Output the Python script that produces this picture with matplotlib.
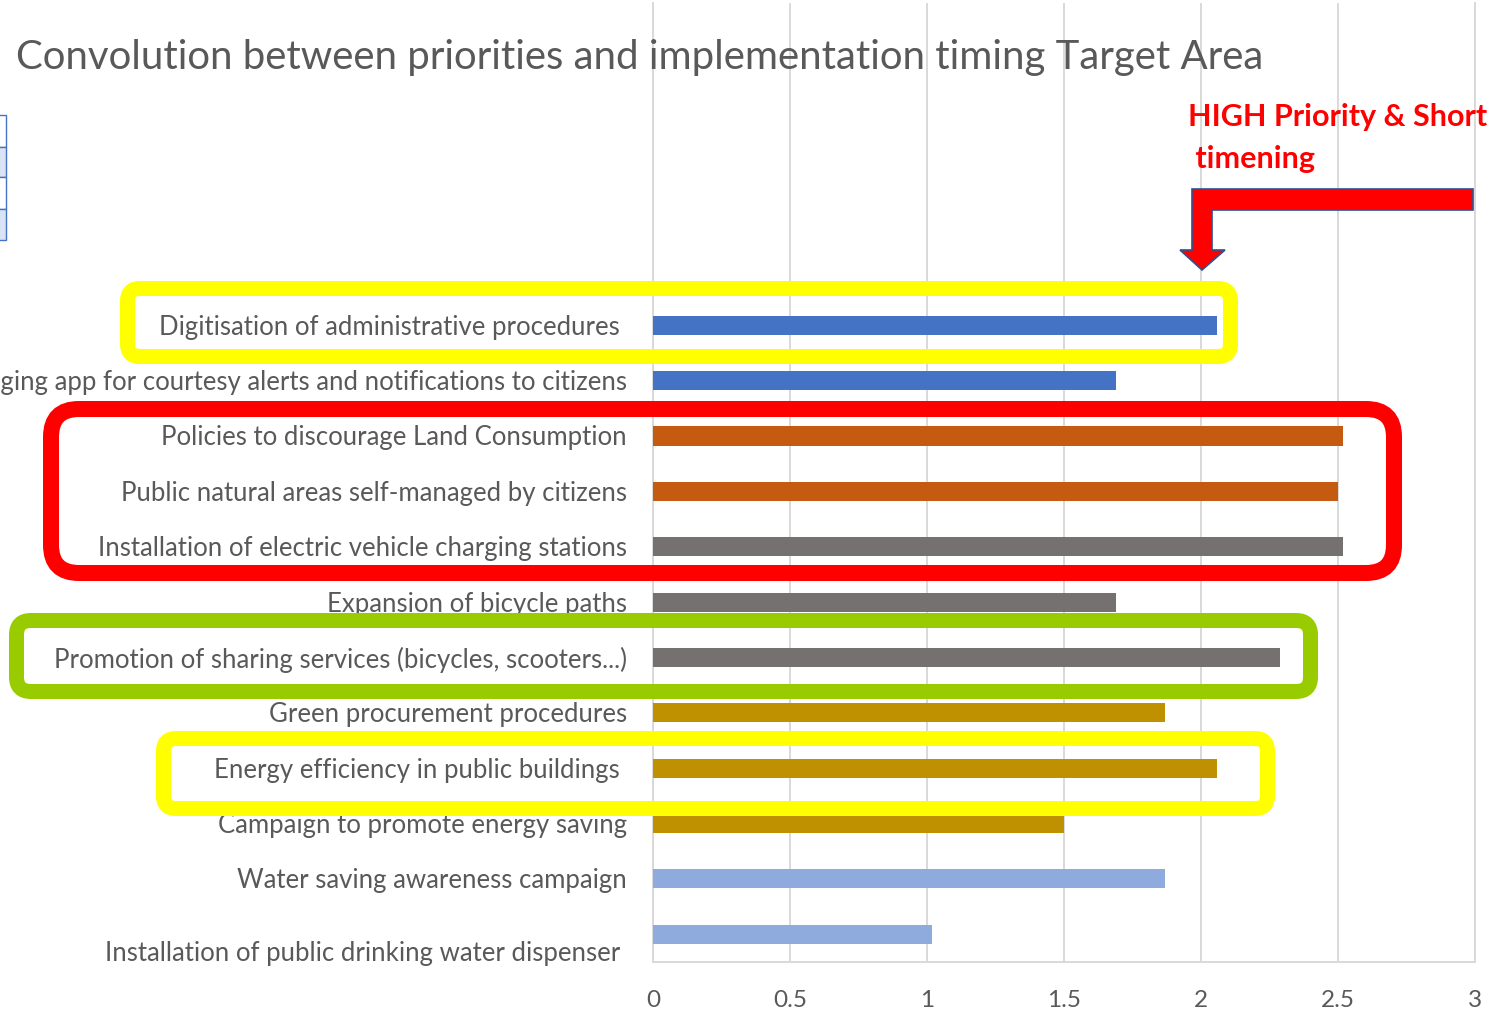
import matplotlib
matplotlib.use("Agg")
import matplotlib.pyplot as plt
import matplotlib.transforms as mtransforms
from matplotlib.patches import FancyBboxPatch, Polygon, Rectangle
import numpy as np

plt.rcParams['font.family'] = ['Lato', 'DejaVu Sans']

# Actions, top to bottom, with their combined priority/timing score
actions = [
    "Digitisation of administrative procedures",
    "Messaging app for courtesy alerts and notifications to citizens",
    "Policies to discourage Land Consumption",
    "Public natural areas self-managed by citizens",
    "Installation of electric vehicle charging stations",
    "Expansion of bicycle paths",
    "Promotion of sharing services (bicycles, scooters...)",
    "Green procurement procedures",
    "Energy efficiency in public buildings",
    "Campaign to promote energy saving",
    "Water saving awareness campaign",
    "Installation of public drinking water dispenser",
]
scores = [2.06, 1.69, 2.52, 2.50, 2.52, 1.69, 2.29, 1.87, 2.06, 1.50, 1.87, 1.02]

x_ticks = [0, 0.5, 1, 1.5, 2, 2.5, 3]
x_tick_labels = ["0", "0.5", "1", "1.5", "2", "2.5", "3"]

title = "Convolution between priorities and implementation timing Target Area"
callout = ["HIGH Priority & Short", " timening"]

# one colour per thematic group
bar_colors = ["#4472C4", "#4472C4", "#C55A11", "#C55A11", "#767171", "#767171",
              "#767171", "#BF9000", "#BF9000", "#BF9000", "#8FAADC", "#8FAADC"]
# a few labels sit a bit off their bar (dx, dy in pixels)
label_shift = {0: (-7, 0), 8: (-7, 0), 11: (-7, -17)}

W, H = 1496, 1010
fig = plt.figure(figsize=(W / 100, H / 100), dpi=100)
ax = fig.add_axes([653 / W, 1 - 962 / H, (1475 - 653) / W, 959 / H])

y = np.arange(len(actions))
ax.barh(y, scores, height=0.345, color=bar_colors, zorder=3)
ax.set_xlim(0, 3)
ax.set_ylim(11.5, -5.82)
ax.set_xticks(x_ticks)
ax.set_xticklabels(x_tick_labels)
ax.set_yticks([])
ax.grid(axis='x', color='#D9D9D9', lw=1.4, zorder=0)
ax.spines['top'].set_visible(False)
for side in ['left', 'right', 'bottom']:
    ax.spines[side].set_color('#D9D9D9')
    ax.spines[side].set_linewidth(1.4)
ax.tick_params(axis='x', length=0, pad=20, labelsize=17.5, labelcolor='#595959')

for i, lab in enumerate(actions):
    dx, dy = label_shift.get(i, (0, 0))
    ax.annotate(lab, xy=(0, i), xycoords=ax.get_yaxis_transform(),
                xytext=(-26 + dx, dy - 2), textcoords='offset pixels',
                ha='right', va='center', fontsize=18.5, color='#595959',
                annotation_clip=False)

fig.text(16 / W, 1 - 57 / H, title, ha='left', va='center',
         fontsize=28.9, color='#595959')

# pixel space, origin top-left
pix = mtransforms.Affine2D().scale(1 / W, -1 / H).translate(0, 1) + fig.transFigure


def frame(x0, y0, x1, y1, sw, r, color):
    h = sw / 2
    box = FancyBboxPatch((x0 + h, y0 + h), x1 - x0 - sw, y1 - y0 - sw,
                         boxstyle=f"round,pad=0,rounding_size={r - h}",
                         transform=pix, fill=False, ec=color,
                         lw=sw * 0.72, zorder=5)
    fig.add_artist(box)


frame(120, 281, 1238, 364, 15, 20, '#FFFF00')
frame(43, 401, 1402, 581, 16, 36, '#FF0000')
frame(9, 613, 1318, 699, 15, 22, '#99CC00')
frame(156, 731, 1275, 816, 15, 20, '#FFFF00')

# bent arrow pointing down at the top bar
arrow = Polygon([(1473, 189), (1192, 189), (1192, 250), (1180, 250), (1202, 270),
                 (1225, 250), (1212, 250), (1212, 210), (1473, 210)],
                closed=True, transform=pix, fc='#FF0000', ec='#2F528F',
                lw=1.2, zorder=6)
fig.add_artist(arrow)

fig.text(1188 / W, 1 - 117 / H, callout[0], ha='left', va='center',
         fontsize=22, fontweight='bold', color='#FF0000')
fig.text(1188 / W, 1 - 159 / H, callout[1], ha='left', va='center',
         fontsize=22, fontweight='bold', color='#FF0000')

# sliver of a spreadsheet selection at the left edge
cells = [(115, 147, '#FFFFFF'), (147, 177, '#DAE3F3'),
         (177, 209, '#FFFFFF'), (209, 240, '#DAE3F3')]
for top, bot, fc in cells:
    fig.add_artist(Rectangle((-2, top), 8, bot - top, transform=pix,
                             fc=fc, ec='#4472C4', lw=1, zorder=4))

fig.savefig("out.png", dpi=100)
